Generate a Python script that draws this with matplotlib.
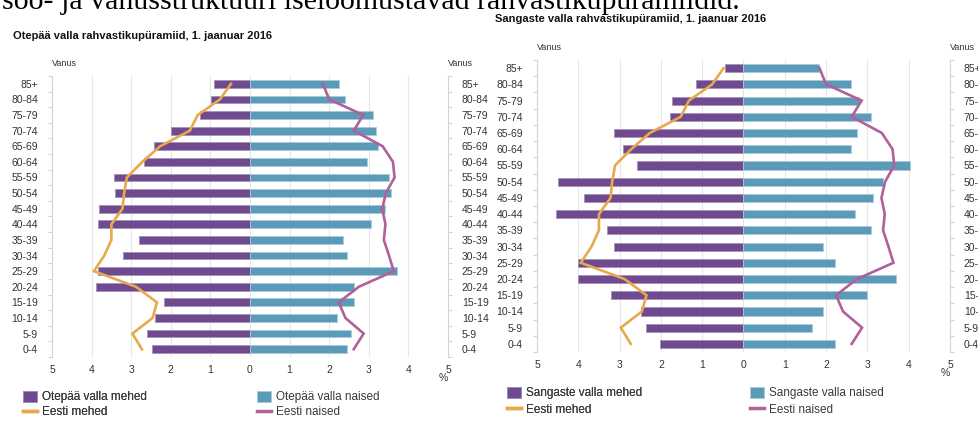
import matplotlib.pyplot as plt
import numpy as np
from matplotlib.patches import Patch
from matplotlib.lines import Line2D

W, H = 979, 421

age_groups = ['85+', '80-84', '75-79', '70-74', '65-69', '60-64', '55-59', '50-54', '45-49',
              '40-44', '35-39', '30-34', '25-29', '20-24', '15-19', '10-14', '5-9', '0-4']

# shares of population, %, listed from the oldest group down
otepaa_men = [0.91, 0.98, 1.25, 1.99, 2.43, 2.67, 3.43, 3.41, 3.81, 3.85, 2.81, 3.20, 3.85, 3.90, 2.16, 2.41, 2.60, 2.48]
otepaa_women = [2.26, 2.39, 3.10, 3.19, 3.22, 2.96, 3.50, 3.57, 3.42, 3.06, 2.35, 2.45, 3.70, 2.62, 2.62, 2.20, 2.54, 2.45]
sangaste_men = [0.46, 1.15, 1.73, 1.78, 3.14, 2.91, 2.59, 4.50, 3.85, 4.55, 3.31, 3.14, 4.00, 4.00, 3.22, 2.49, 2.36, 2.03]
sangaste_women = [1.84, 2.60, 2.80, 3.08, 2.76, 2.60, 4.02, 3.38, 3.14, 2.69, 3.08, 1.92, 2.21, 3.70, 3.00, 1.92, 1.66, 2.21]
estonia_men = [0.48, 0.76, 1.32, 1.52, 2.27, 2.72, 3.11, 3.18, 3.22, 3.50, 3.50, 3.68, 3.94, 2.88, 2.35, 2.46, 2.97, 2.73]
estonia_women = [1.84, 2.00, 2.86, 2.62, 3.35, 3.61, 3.65, 3.43, 3.34, 3.42, 3.38, 3.51, 3.63, 2.75, 2.24, 2.41, 2.87, 2.62]

MEN = '#6f4a8e'
WOMEN = '#5b9bb7'
EST_MEN = '#e9a84c'
EST_WOMEN = '#b0609a'
AXIS = '#d4d4d4'
GRID = '#e6e6e6'
TXT = '#333333'

plt.rcParams['font.family'] = ['Liberation Sans', 'DejaVu Sans']


def fx(x):
    return x / W


def fy(y):
    return 1 - y / H


def draw_pyramid(fig, box, name, men, women, title_pos, legend_x, legend_top, row_gap):
    left, top, right, bottom = box
    ax = fig.add_axes([fx(left), fy(bottom), (right - left) / W, (bottom - top) / H])
    y = np.arange(len(age_groups))

    for gx in range(-4, 5):
        ax.axvline(gx, color=GRID, lw=0.8, zorder=0)

    ax.barh(y, -np.array(men), height=0.5, color=MEN, edgecolor='#a592bd', linewidth=0.6, zorder=2)
    ax.barh(y, women, height=0.5, color=WOMEN, edgecolor='#a9cddd', linewidth=0.6, zorder=2)
    ax.plot(-np.array(estonia_men), y, color=EST_MEN, lw=1.9, zorder=3, solid_joinstyle='miter')
    ax.plot(estonia_women, y, color=EST_WOMEN, lw=1.9, zorder=3, solid_joinstyle='miter')

    ax.set_xlim(-5, 5)
    ax.set_ylim(len(age_groups) - 0.5, -0.5)
    ax.set_xticks(range(-5, 6), [str(abs(v)) for v in range(-5, 6)])
    ax.set_yticks(y, age_groups)
    ax.set_yticks(np.arange(-0.5, len(age_groups)), minor=True)

    for side in ('top', 'bottom'):
        ax.spines[side].set_visible(False)
    for side in ('left', 'right'):
        ax.spines[side].set_color(AXIS)
        ax.spines[side].set_linewidth(0.8)

    ax.tick_params(axis='y', which='major', length=0, left=False, right=False,
                   labelleft=True, labelright=True, pad=10, labelsize=7.5, labelcolor=TXT)
    ax.tick_params(axis='y', which='minor', length=3, left=True, right=True,
                   direction='out', color=AXIS, width=0.8)
    ax.tick_params(axis='x', length=0, pad=6, labelsize=7.5, labelcolor=TXT)

    for xa in (0, 1):
        ax.annotate('Vanus', xy=(xa, 1), xycoords='axes fraction', xytext=(0, 12),
                    textcoords='offset pixels', ha='left', va='center', fontsize=6.5, color=TXT)
    ax.annotate('%', xy=(1, 0), xycoords='axes fraction', xytext=(-5, -21),
                textcoords='offset pixels', ha='center', va='center', fontsize=7.5, color=TXT)

    fig.text(fx(title_pos[0]), fy(title_pos[1]), f'{name} valla rahvastikupüramiid, 1. jaanuar 2016',
             ha='left', va='center', fontsize=8, fontweight='bold', color='#111111')

    legend_opts = dict(loc='upper left', bbox_transform=fig.transFigure, frameon=False,
                       fontsize=8.5, borderpad=0, borderaxespad=0, handlelength=1.2,
                       handleheight=1.0, handletextpad=0.45, labelspacing=row_gap,
                       labelcolor='#3a3a3a')
    men_handles = [Patch(facecolor=MEN, edgecolor='#a592bd', lw=0.6),
                   Line2D([], [], color=EST_MEN, lw=2.5)]
    women_handles = [Patch(facecolor=WOMEN, edgecolor='#a9cddd', lw=0.6),
                     Line2D([], [], color=EST_WOMEN, lw=2.5)]
    leg1 = fig.legend(men_handles, [f'{name} valla mehed', 'Eesti mehed'],
                      bbox_to_anchor=(fx(legend_x[0]), fy(legend_top)), **legend_opts)
    fig.legend(women_handles, [f'{name} valla naised', 'Eesti naised'],
               bbox_to_anchor=(fx(legend_x[1]), fy(legend_top)), **legend_opts)
    fig.add_artist(leg1)
    return ax


fig = plt.figure(figsize=(W / 100, H / 100), dpi=100)

fig.text(fx(2), fy(9), 'soo- ja vanusstruktuuri iseloomustavad rahvastikupüramiidid.',
         ha='left', va='baseline', fontsize=21.5, family=['Liberation Serif', 'DejaVu Serif'], color='black')

draw_pyramid(fig, (52, 76, 448, 357), 'Otepää', otepaa_men, otepaa_women,
             (12.7, 36), (23, 257), 391, 0.22)
draw_pyramid(fig, (537, 60, 950, 352), 'Sangaste', sangaste_men, sangaste_women,
             (495, 19), (507, 750), 387, 0.35)

fig.savefig('out.png', dpi=100)
